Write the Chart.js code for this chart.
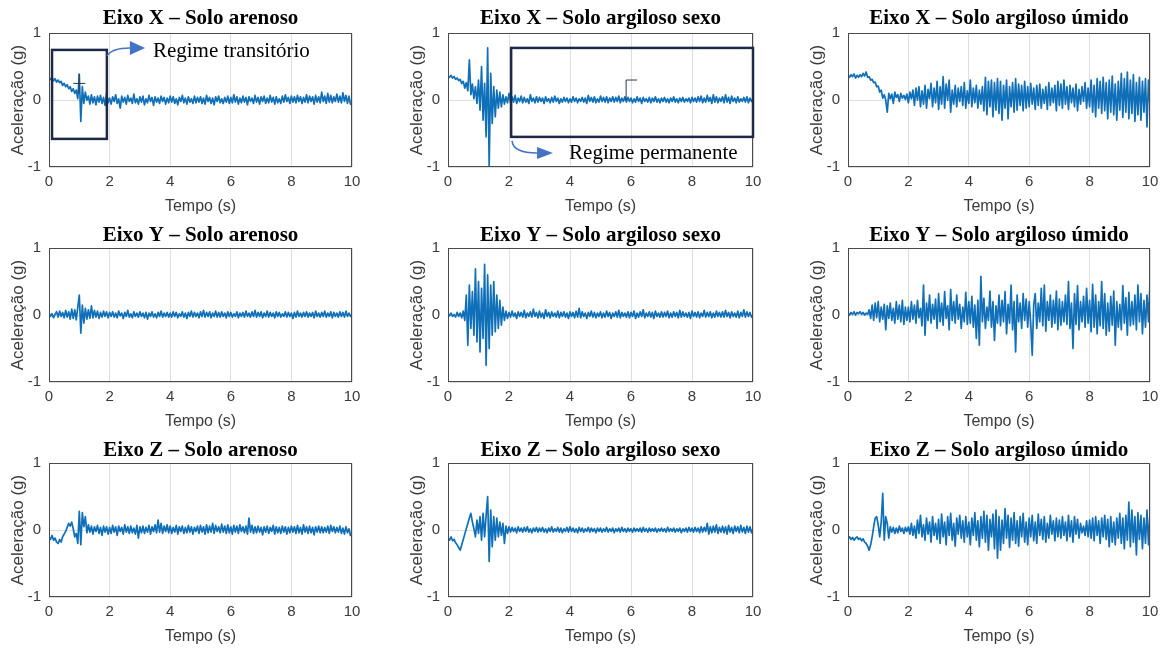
<!DOCTYPE html>
<html>
<head>
<meta charset="utf-8">
<title>Aceleração</title>
<script src="https://cdn.jsdelivr.net/npm/chart.js@4.4.1/dist/chart.umd.min.js"></script>
<style>
body { margin: 0; background: #fff; }
#fig { position: relative; width: 1165px; height: 648px; overflow: hidden; }
#fig canvas { position: absolute; }
</style>
</head>
<body>
<div id="fig"></div>
<script>
// passo de amostragem (s) - 201 amostras de 0 a 10 s
var dt = 0.05;

var tempoTicks = [0, 2, 4, 6, 8, 10];
var acelTicks = [-1, 0, 1];

var titulos = [
	'Eixo X – Solo arenoso', 'Eixo X – Solo argiloso sexo', 'Eixo X – Solo argiloso úmido',
	'Eixo Y – Solo arenoso', 'Eixo Y – Solo argiloso sexo', 'Eixo Y – Solo argiloso úmido',
	'Eixo Z – Solo arenoso', 'Eixo Z – Solo argiloso sexo', 'Eixo Z – Solo argiloso úmido'
];

// aceleracao (g), uma linha por segundo
var xArenoso = [
	0.33,0.31,0.34,0.29,0.32,0.27,0.30,0.26,0.28,0.22,0.25,0.20,0.23,0.17,0.20,0.13,0.17,0.10,0.15,0.02,
	0.38,-0.32,0.20,-0.05,0.12,0.00,0.06,-0.06,0.08,-0.04,0.05,-0.07,0.06,-0.03,0.07,-0.05,0.04,-0.08,0.10,-0.04,
	0.03,-0.06,0.05,-0.02,0.08,-0.05,0.02,-0.12,0.06,-0.03,0.04,-0.06,0.07,-0.02,0.03,-0.05,0.09,-0.04,0.02,-0.06,
	0.05,-0.03,0.06,-0.07,0.02,-0.04,0.07,-0.02,0.04,-0.08,0.05,-0.03,0.03,-0.05,0.06,-0.02,0.04,-0.06,0.03,-0.04,
	0.06,-0.03,0.05,-0.05,0.02,-0.07,0.04,-0.02,0.07,-0.04,0.03,-0.06,0.05,-0.03,0.02,-0.05,0.06,-0.04,0.04,-0.03,
	0.05,-0.05,0.03,-0.06,0.07,-0.02,0.04,-0.05,0.03,-0.07,0.05,-0.02,0.06,-0.04,0.02,-0.05,0.04,-0.03,0.06,-0.05,
	0.04,-0.04,0.08,-0.03,0.05,-0.06,0.03,-0.04,0.06,-0.03,0.04,-0.07,0.05,-0.02,0.03,-0.05,0.07,-0.03,0.04,-0.06,
	0.05,-0.02,0.06,-0.05,0.03,-0.04,0.07,-0.03,0.04,-0.06,0.05,-0.04,0.02,-0.05,0.06,-0.03,0.08,-0.02,0.04,-0.05,
	0.06,-0.03,0.05,-0.04,0.07,-0.02,0.05,-0.05,0.04,-0.03,0.08,-0.04,0.06,-0.02,0.05,-0.06,0.07,-0.03,0.05,-0.04,
	0.12,-0.02,0.06,-0.05,0.10,-0.03,0.07,-0.04,0.05,-0.02,0.09,-0.03,0.06,-0.04,0.11,-0.02,0.07,-0.05,0.06,-0.06,
	-0.03
];
var xArgilosoSeco = [
	0.36,0.34,0.37,0.33,0.35,0.31,0.33,0.29,0.31,0.25,0.28,0.18,0.26,0.14,0.60,0.08,0.24,0.02,0.20,-0.05,
	0.30,-0.15,0.50,-0.30,0.25,-0.55,0.78,-0.98,0.40,-0.35,0.20,-0.25,0.15,-0.12,0.12,-0.10,0.08,-0.06,0.05,-0.04,
	0.10,-0.04,0.05,-0.03,0.07,-0.05,0.03,-0.02,0.06,-0.04,0.04,-0.03,0.02,-0.05,0.08,-0.02,0.03,-0.04,0.05,-0.03,
	0.04,-0.02,0.03,-0.05,0.05,-0.02,0.02,-0.04,0.04,-0.03,0.06,-0.02,0.03,-0.05,0.02,-0.03,0.04,-0.02,0.03,-0.04,
	0.02,-0.03,0.05,-0.02,0.03,-0.04,0.02,-0.02,0.04,-0.03,0.03,-0.05,0.07,-0.02,0.04,-0.03,0.05,-0.04,0.02,-0.03,
	0.06,-0.02,0.04,-0.03,0.05,-0.04,0.03,-0.02,0.05,-0.03,0.04,-0.02,0.06,-0.04,0.03,-0.02,0.05,-0.03,0.04,-0.02,
	0.03,-0.04,0.02,-0.03,0.05,-0.02,0.03,-0.05,0.04,-0.02,0.02,-0.03,0.04,-0.04,0.03,-0.02,0.05,-0.03,0.02,-0.04,
	0.03,-0.02,0.04,-0.03,0.02,-0.04,0.03,-0.02,0.05,-0.03,0.02,-0.04,0.03,-0.02,0.04,-0.03,0.02,-0.02,0.03,-0.04,
	0.04,-0.02,0.03,-0.03,0.05,-0.02,0.06,-0.04,0.03,-0.03,0.07,-0.02,0.04,-0.05,0.08,-0.03,0.05,-0.04,0.03,-0.02,
	0.05,-0.04,0.08,-0.03,0.04,-0.05,0.06,-0.02,0.03,-0.04,0.05,-0.03,0.02,-0.02,0.04,-0.03,0.05,-0.04,0.03,-0.02,
	0.02
];
var xArgilosoUmido = [
	0.37,0.34,0.38,0.35,0.39,0.33,0.37,0.34,0.38,0.35,0.40,0.36,0.42,0.34,0.35,0.30,0.31,0.26,0.27,0.20,
	0.21,0.12,0.15,0.03,0.08,0.00,-0.18,0.10,0.02,0.09,-0.05,0.12,0.04,0.08,-0.02,0.10,0.03,0.07,0.01,0.09,
	-0.04,0.12,0.02,0.15,-0.08,0.18,0.00,0.20,-0.10,0.14,-0.06,0.22,-0.12,0.16,0.02,0.25,-0.10,0.18,-0.04,0.28,
	-0.14,0.20,-0.06,0.35,-0.12,0.24,0.00,0.30,-0.18,0.15,-0.06,0.22,-0.10,0.18,-0.02,0.20,-0.08,0.26,-0.12,0.14,
	-0.05,0.30,-0.10,0.18,-0.04,0.22,-0.12,0.15,-0.06,0.20,-0.16,0.34,-0.22,0.28,-0.10,0.30,-0.25,0.26,-0.15,0.32,
	-0.20,0.28,-0.30,0.22,-0.12,0.30,-0.28,0.20,-0.10,0.26,-0.18,0.32,-0.15,0.24,-0.08,0.22,-0.16,0.28,-0.12,0.20,
	-0.10,0.25,-0.06,0.18,-0.14,0.22,-0.08,0.24,-0.12,0.16,-0.05,0.20,-0.14,0.26,-0.08,0.18,-0.04,0.22,-0.16,0.28,
	-0.08,0.24,-0.12,0.30,-0.06,0.20,-0.14,0.22,-0.04,0.18,-0.10,0.24,-0.16,0.16,-0.06,0.20,-0.02,0.26,-0.12,0.18,
	-0.10,0.30,-0.18,0.22,-0.25,0.32,-0.12,0.28,-0.20,0.34,-0.16,0.26,-0.28,0.30,-0.18,0.36,-0.22,0.24,-0.30,0.28,
	-0.15,0.40,-0.26,0.32,-0.18,0.42,-0.28,0.30,-0.20,0.38,-0.32,0.26,-0.22,0.34,-0.30,0.28,-0.18,0.32,-0.40,0.30,
	-0.10
];
var yArenoso = [
	0.03,-0.02,0.02,-0.04,0.01,0.05,-0.03,0.06,-0.02,0.04,-0.04,0.07,-0.03,0.05,-0.06,0.09,-0.05,0.08,-0.07,0.12,
	0.30,-0.27,0.15,-0.12,0.10,-0.06,0.08,-0.05,0.14,-0.04,0.07,-0.03,0.06,-0.05,0.04,-0.03,0.06,-0.02,0.05,-0.04,
	0.04,-0.02,0.05,-0.03,0.03,-0.04,0.06,-0.01,0.03,-0.05,0.04,-0.02,0.07,-0.03,0.02,-0.04,0.05,-0.02,0.03,-0.03,
	0.05,-0.02,0.03,-0.04,0.04,-0.06,0.03,-0.02,0.05,-0.03,0.02,-0.04,0.04,-0.02,0.06,-0.03,0.03,-0.02,0.04,-0.03,
	0.03,-0.03,0.05,-0.02,0.04,-0.04,0.02,-0.02,0.05,-0.03,0.03,-0.05,0.04,-0.02,0.06,-0.03,0.04,-0.02,0.03,-0.04,
	0.05,-0.02,0.07,-0.03,0.04,-0.02,0.05,-0.04,0.03,-0.02,0.06,-0.03,0.04,-0.03,0.05,-0.02,0.03,-0.04,0.05,-0.02,
	0.04,-0.03,0.02,-0.02,0.05,-0.04,0.03,-0.02,0.04,-0.03,0.06,-0.02,0.03,-0.03,0.05,-0.02,0.07,-0.03,0.04,-0.02,
	0.05,-0.04,0.03,-0.02,0.06,-0.03,0.04,-0.02,0.03,-0.04,0.05,-0.02,0.04,-0.03,0.02,-0.02,0.05,-0.03,0.04,-0.02,
	0.03,-0.05,0.04,-0.03,0.06,-0.02,0.03,-0.03,0.04,-0.02,0.05,-0.03,0.03,-0.02,0.04,-0.04,0.06,-0.02,0.03,-0.03,
	0.04,-0.02,0.06,-0.03,0.03,-0.02,0.05,-0.04,0.04,-0.02,0.03,-0.03,0.05,-0.02,0.04,-0.03,0.06,-0.02,0.03,-0.02,
	0.01
];
var yArgilosoSeco = [
	0.02,-0.01,0.03,-0.02,0.01,-0.03,0.04,-0.02,0.03,-0.04,0.06,-0.08,0.30,-0.45,0.45,-0.20,0.35,-0.30,0.69,-0.40,
	0.50,-0.55,0.40,-0.35,0.76,-0.75,0.60,-0.50,0.45,-0.30,0.50,-0.25,0.30,-0.20,0.22,-0.15,0.12,-0.08,0.06,-0.05,
	0.04,-0.03,0.06,-0.02,0.03,-0.05,0.05,-0.02,0.04,-0.03,0.07,-0.04,0.03,-0.02,0.05,-0.03,0.09,-0.02,0.04,-0.04,
	0.06,-0.03,0.03,-0.05,0.08,-0.02,0.04,-0.04,0.05,-0.02,0.03,-0.03,0.06,-0.04,0.04,-0.02,0.05,-0.03,0.03,-0.05,
	0.05,-0.02,0.04,-0.04,0.06,-0.03,0.10,-0.04,0.05,-0.02,0.03,-0.05,0.04,-0.02,0.06,-0.03,0.04,-0.04,0.03,-0.02,
	0.05,-0.04,0.03,-0.03,0.06,-0.02,0.04,-0.05,0.03,-0.02,0.05,-0.03,0.07,-0.04,0.04,-0.02,0.03,-0.03,0.05,-0.04,
	0.04,-0.02,0.06,-0.05,0.03,-0.03,0.05,-0.02,0.08,-0.04,0.03,-0.02,0.05,-0.03,0.04,-0.05,0.06,-0.02,0.03,-0.03,
	0.05,-0.03,0.04,-0.02,0.06,-0.04,0.03,-0.03,0.05,-0.02,0.04,-0.04,0.07,-0.03,0.05,-0.02,0.03,-0.03,0.04,-0.05,
	0.06,-0.02,0.04,-0.03,0.05,-0.04,0.03,-0.02,0.07,-0.03,0.04,-0.02,0.05,-0.04,0.03,-0.03,0.06,-0.02,0.04,-0.03,
	0.05,-0.03,0.07,-0.02,0.04,-0.04,0.05,-0.02,0.03,-0.03,0.06,-0.04,0.04,-0.02,0.08,-0.03,0.05,-0.02,0.04,-0.03,
	0.00
];
var yArgilosoUmido = [
	0.03,0.00,0.04,0.01,0.05,0.00,0.04,0.02,0.05,0.01,0.04,0.00,0.03,0.01,0.08,-0.05,0.15,-0.08,0.18,-0.04,
	0.20,-0.10,0.12,-0.06,0.16,-0.22,0.14,-0.05,0.18,-0.08,0.10,-0.12,0.20,-0.06,0.15,-0.10,0.22,-0.14,0.12,-0.08,
	0.12,-0.10,0.20,-0.06,0.15,-0.12,0.22,-0.04,0.10,-0.16,0.45,-0.30,0.18,-0.08,0.30,-0.12,0.16,-0.06,0.24,-0.20,
	0.32,-0.10,0.18,-0.15,0.35,-0.05,0.14,-0.22,0.38,-0.08,0.20,-0.12,0.30,-0.06,0.16,-0.20,0.12,-0.10,0.34,-0.14,
	0.20,-0.12,0.28,-0.18,0.15,-0.35,0.22,-0.45,0.58,-0.10,0.25,-0.20,0.12,-0.08,0.36,-0.18,0.20,-0.38,0.14,-0.12,
	0.30,-0.16,0.22,-0.10,0.35,-0.28,0.16,-0.12,0.45,-0.22,0.20,-0.55,0.30,-0.10,0.18,-0.20,0.32,-0.08,0.24,-0.18,
	0.20,-0.12,-0.60,0.16,0.32,-0.20,0.18,-0.10,0.40,-0.16,0.45,-0.24,0.20,-0.08,0.30,-0.18,0.22,-0.12,0.36,-0.22,
	0.24,-0.15,0.20,-0.10,0.30,-0.14,0.50,-0.20,0.18,-0.50,0.32,-0.14,0.44,-0.22,0.20,-0.10,0.28,-0.18,0.40,-0.12,
	0.22,-0.25,0.46,-0.18,0.30,-0.28,0.20,-0.16,0.50,-0.20,0.32,-0.30,0.18,-0.24,0.28,-0.15,0.36,-0.45,0.20,-0.18,
	0.16,-0.22,0.44,-0.12,0.26,-0.30,0.34,-0.16,0.20,-0.14,0.30,-0.22,0.45,-0.10,0.32,-0.28,0.22,-0.18,0.30,-0.10,
	0.50
];
var zArenoso = [
	-0.10,-0.14,-0.08,-0.15,-0.12,-0.18,-0.20,-0.14,-0.18,-0.10,-0.06,-0.02,0.04,0.10,0.06,0.12,0.02,-0.10,-0.05,-0.20,
	0.28,-0.22,0.26,0.05,0.20,-0.04,0.08,-0.03,0.06,-0.06,0.05,-0.02,0.07,-0.05,0.04,-0.08,0.06,-0.03,0.05,-0.06,
	0.04,-0.05,0.07,-0.03,0.05,-0.08,0.06,-0.02,0.04,-0.06,0.08,-0.03,0.05,-0.05,0.06,-0.04,0.03,-0.06,0.07,-0.12,
	0.05,-0.04,0.06,-0.05,0.04,-0.03,0.07,-0.06,0.05,-0.02,0.08,-0.04,0.15,-0.03,0.10,-0.05,0.06,-0.02,0.08,-0.04,
	0.06,-0.05,0.04,-0.03,0.07,-0.06,0.05,-0.02,0.06,-0.05,0.04,-0.04,0.07,-0.03,0.05,-0.06,0.04,-0.02,0.06,-0.05,
	0.07,-0.03,0.05,-0.06,0.08,-0.04,0.06,-0.03,0.10,-0.05,0.07,-0.02,0.05,-0.04,0.09,-0.03,0.06,-0.05,0.08,-0.04,
	0.05,-0.06,0.07,-0.03,0.06,-0.05,0.08,-0.02,0.05,-0.04,0.06,-0.06,0.18,-0.03,0.07,-0.05,0.05,-0.04,0.06,-0.03,
	0.04,-0.07,0.05,-0.03,0.06,-0.05,0.04,-0.02,0.07,-0.06,0.05,-0.04,0.04,-0.05,0.06,-0.03,0.05,-0.06,0.04,-0.04,
	0.06,-0.03,0.05,-0.05,0.07,-0.04,0.04,-0.06,0.08,-0.03,0.05,-0.05,0.06,-0.04,0.04,-0.07,0.05,-0.03,0.06,-0.04,
	0.05,-0.04,0.04,-0.03,0.06,-0.05,0.07,-0.02,0.05,-0.04,0.04,-0.03,0.06,-0.05,0.03,-0.06,0.05,-0.04,0.02,-0.08,
	-0.05
];
var zArgilosoSeco = [
	-0.12,-0.15,-0.10,-0.16,-0.14,-0.19,-0.22,-0.26,-0.30,-0.22,-0.14,-0.06,0.02,0.10,0.18,0.25,0.12,0.02,-0.10,0.15,
	-0.05,0.20,-0.15,0.25,-0.10,0.22,0.50,-0.47,0.30,-0.25,0.20,-0.15,0.18,-0.10,0.12,-0.08,0.10,-0.20,0.06,-0.05,
	0.05,-0.03,0.04,-0.02,0.03,-0.04,0.05,-0.02,0.03,-0.03,0.04,-0.02,0.05,-0.03,0.02,-0.04,0.03,-0.02,0.04,-0.03,
	0.03,-0.02,0.04,-0.03,0.02,-0.04,0.03,-0.02,0.05,-0.03,0.02,-0.02,0.04,-0.03,0.03,-0.04,0.02,-0.02,0.04,-0.03,
	0.05,-0.02,0.03,-0.03,0.02,-0.04,0.04,-0.02,0.03,-0.03,0.02,-0.02,0.04,-0.03,0.03,-0.02,0.02,-0.04,0.03,-0.02,
	0.03,-0.03,0.02,-0.02,0.04,-0.03,0.02,-0.02,0.03,-0.04,0.02,-0.02,0.03,-0.03,0.04,-0.02,0.02,-0.03,0.03,-0.02,
	0.02,-0.03,0.03,-0.02,0.02,-0.02,0.03,-0.03,0.04,-0.02,0.02,-0.03,0.03,-0.02,0.02,-0.02,0.03,-0.03,0.02,-0.02,
	0.03,-0.02,0.02,-0.03,0.04,-0.02,0.02,-0.02,0.03,-0.03,0.02,-0.02,0.03,-0.04,0.02,-0.02,0.03,-0.03,0.04,-0.02,
	0.03,-0.03,0.04,-0.02,0.03,-0.04,0.05,-0.03,0.04,-0.02,0.10,-0.06,0.05,-0.04,0.06,-0.03,0.08,-0.05,0.04,-0.03,
	0.06,-0.04,0.05,-0.06,0.07,-0.03,0.04,-0.05,0.06,-0.02,0.05,-0.04,0.07,-0.03,0.04,-0.05,0.06,-0.03,0.05,-0.04,
	0.03
];
var zArgilosoUmido = [
	-0.12,-0.10,-0.14,-0.11,-0.15,-0.12,-0.10,-0.14,-0.12,-0.16,-0.13,-0.18,-0.20,-0.24,-0.30,-0.22,-0.10,0.05,0.18,0.20,
	0.08,-0.10,0.12,0.55,-0.15,0.20,0.10,-0.12,0.05,-0.03,0.04,-0.05,0.03,-0.04,0.06,-0.02,0.03,-0.05,0.04,-0.02,
	0.05,-0.06,0.10,-0.08,0.06,-0.12,0.15,-0.05,0.22,-0.10,0.08,-0.15,0.18,-0.06,0.12,-0.18,0.20,-0.08,0.10,-0.14,
	0.16,-0.20,0.24,-0.10,0.12,-0.22,0.20,-0.08,0.25,-0.15,0.10,-0.24,0.18,-0.06,0.22,-0.12,0.14,-0.18,0.20,-0.10,
	0.12,-0.22,0.18,-0.08,0.26,-0.15,0.14,-0.25,0.20,-0.12,0.28,-0.18,0.22,-0.30,0.16,-0.10,0.24,-0.28,0.30,-0.42,
	0.20,-0.30,0.15,-0.20,0.32,-0.12,0.22,-0.26,0.18,-0.15,0.26,-0.20,0.14,-0.24,0.20,-0.10,0.25,-0.18,0.12,-0.22,
	0.18,-0.10,0.22,-0.16,0.12,-0.20,0.24,-0.08,0.16,-0.14,0.20,-0.18,0.10,-0.12,0.22,-0.06,0.14,-0.16,0.18,-0.10,
	0.15,-0.12,0.20,-0.08,0.12,-0.16,0.22,-0.10,0.14,-0.18,0.20,-0.06,0.16,-0.12,0.10,-0.04,0.06,-0.08,0.14,-0.10,
	0.15,-0.12,0.18,-0.16,0.20,-0.08,0.14,-0.20,0.18,-0.10,0.22,-0.14,0.16,-0.25,0.20,-0.18,0.12,-0.22,0.18,-0.12,
	0.25,-0.20,0.18,-0.28,0.22,-0.15,0.42,-0.25,0.30,-0.18,0.20,-0.37,0.26,-0.14,0.22,-0.28,0.18,-0.20,0.30,-0.22,
	0.25
];

var series = [xArenoso, xArgilosoSeco, xArgilosoUmido, yArenoso, yArgilosoSeco, yArgilosoUmido, zArenoso, zArgilosoSeco, zArgilosoUmido];

// caixas de destaque (coordenadas em tempo / g)
var destaques = {
	0: {
		caixa: [0.10, 1.91, -0.58, 0.75],
		seta: [[1.91, 0.66], [2.08, 0.78], [2.67, 0.78], [3.17, 0.78]], meia: 0.105,
		texto: 'Regime transitório', pos: [3.43, 0.64],
		marcas: [[0.80, 0.25, 1.20, 0.25], [0.99, 0.40, 0.99, 0.10]]
	},
	1: {
		caixa: [2.07, 10.0, -0.55, 0.78],
		seta: [[2.10, -0.61], [2.13, -0.79], [2.92, -0.79], [3.44, -0.79]], meia: 0.09,
		texto: 'Regime permanente', pos: [3.97, -0.88],
		marcas: [[5.84, 0.30, 6.20, 0.30], [5.84, 0.30, 5.84, 0.0]]
	}
};

// posicao dos paineis na figura
var colLeft = [0, 399, 799];
var colWidth = [372, 374, 371];
var rowTop = [0, 215, 430];

var moldura = {
	id: 'moldura',
	afterDraw: function(chart, args, opts) {
		var a = chart.chartArea, ctx = chart.ctx;
		ctx.save();
		ctx.strokeStyle = '#4a4a4a';
		ctx.lineWidth = 1;
		ctx.strokeRect(Math.round(a.left) + 0.5, Math.round(a.top) + 0.5, Math.round(a.width) - 1, Math.round(a.height) - 1);
		var d = opts.destaque;
		if (d) {
			var xs = chart.scales.x, ys = chart.scales.y;
			var px = function(t) { return xs.getPixelForValue(t); };
			var py = function(g) { return ys.getPixelForValue(g); };
			// marcas pequenas
			ctx.strokeStyle = '#2b3650';
			ctx.lineWidth = 1;
			d.marcas.forEach(function(m) {
				ctx.beginPath();
				ctx.moveTo(px(m[0]), py(m[1]));
				ctx.lineTo(px(m[2]), py(m[3]));
				ctx.stroke();
			});
			// caixa
			ctx.strokeStyle = '#1c2a48';
			ctx.lineWidth = 2.5;
			ctx.strokeRect(px(d.caixa[0]), py(d.caixa[3]), px(d.caixa[1]) - px(d.caixa[0]), py(d.caixa[2]) - py(d.caixa[3]));
			// seta
			var s = d.seta;
			ctx.strokeStyle = '#4472c4';
			ctx.fillStyle = '#4472c4';
			ctx.lineWidth = 1.5;
			ctx.beginPath();
			ctx.moveTo(px(s[0][0]), py(s[0][1]));
			ctx.quadraticCurveTo(px(s[1][0]), py(s[1][1]), px(s[2][0]), py(s[2][1]));
			ctx.stroke();
			ctx.beginPath();
			ctx.moveTo(px(s[2][0]), py(s[2][1] + d.meia));
			ctx.lineTo(px(s[3][0]), py(s[3][1]));
			ctx.lineTo(px(s[2][0]), py(s[2][1] - d.meia));
			ctx.closePath();
			ctx.fill();
			// texto
			ctx.fillStyle = '#000';
			ctx.font = '21px "Liberation Serif", "Times New Roman", serif';
			ctx.textBaseline = 'alphabetic';
			ctx.textAlign = 'left';
			ctx.fillText(d.texto, px(d.pos[0]), py(d.pos[1]));
		}
		ctx.restore();
	}
};

var fig = document.getElementById('fig');

series.forEach(function(valores, i) {
	var col = i % 3, row = Math.floor(i / 3);
	var cv = document.createElement('canvas');
	cv.width = colWidth[col];
	cv.height = 215;
	cv.style.left = colLeft[col] + 'px';
	cv.style.top = rowTop[row] + 'px';
	fig.appendChild(cv);

	var pontos = valores.map(function(v, k) { return { x: k * dt, y: v }; });

	new Chart(cv, {
		type: 'line',
		data: {
			datasets: [{
				data: pontos,
				borderColor: '#0f6fb8',
				borderWidth: 1.7,
				borderJoinStyle: 'round',
				pointRadius: 0,
				tension: 0,
				fill: false
			}]
		},
		options: {
			responsive: false,
			animation: false,
			events: [],
			layout: { padding: { left: 0, right: 20, top: 0, bottom: 0 } },
			plugins: {
				legend: { display: false },
				tooltip: { enabled: false },
				title: {
					display: true,
					text: titulos[i],
					fullSize: false,
					color: '#000',
					font: { family: '"Liberation Serif", "Times New Roman", serif', size: 21, weight: 'bold', lineHeight: 1.2 },
					padding: row === 0 ? { top: 6, bottom: 2 } : { top: 8, bottom: 0 }
				},
				moldura: { destaque: destaques[i] }
			},
			scales: {
				x: {
					type: 'linear',
					min: 0,
					max: 10,
					afterBuildTicks: function(scale) { scale.ticks = tempoTicks.map(function(v) { return { value: v }; }); },
					afterFit: function(scale) { scale.height = 48; },
					grid: { color: '#dedede', lineWidth: 1, drawTicks: false },
					border: { display: false },
					ticks: { color: '#3a3a3a', padding: 6, maxRotation: 0, font: { family: '"Liberation Sans", Arial, sans-serif', size: 15 } },
					title: { display: true, text: 'Tempo (s)', color: '#3a3a3a', padding: { top: 0, bottom: 0 }, font: { family: '"Liberation Sans", Arial, sans-serif', size: 16, lineHeight: 1 } }
				},
				y: {
					min: -1,
					max: 1,
					afterBuildTicks: function(scale) { scale.ticks = acelTicks.map(function(v) { return { value: v }; }); },
					afterFit: function(scale) { scale.width = 49; },
					grid: { color: '#dedede', lineWidth: 1, drawTicks: false },
					border: { display: false },
					ticks: { color: '#3a3a3a', padding: 8, font: { family: '"Liberation Sans", Arial, sans-serif', size: 15 } },
					title: { display: true, text: 'Aceleração (g)', color: '#3a3a3a', padding: { top: 9.5, bottom: 0 }, font: { family: '"Liberation Sans", Arial, sans-serif', size: 17, lineHeight: 1 } }
				}
			}
		},
		plugins: [moldura]
	});
});
</script>
</body>
</html>
